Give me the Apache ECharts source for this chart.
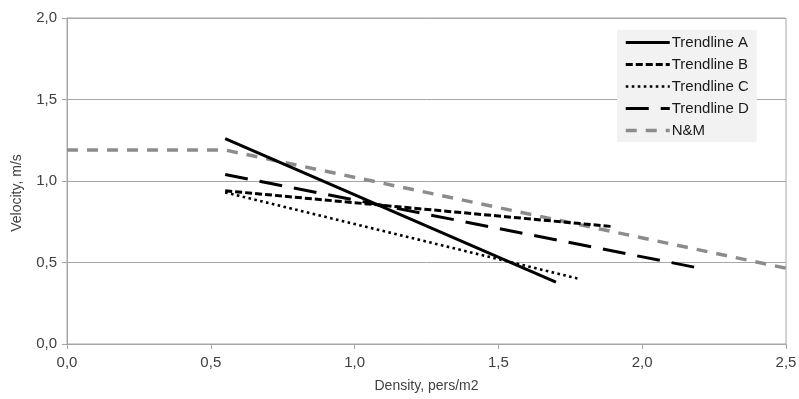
<!DOCTYPE html>
<html><head><meta charset="utf-8">
<script src="https://cdn.jsdelivr.net/npm/echarts@6/dist/echarts.min.js"></script>
<style>html,body{margin:0;padding:0;background:#fff}#c{width:799px;height:399px}</style>
</head><body><div id="c"></div>
<script>
const xTicks = ['0,0','0,5','1,0','1,5','2,0','2,5'];
const yTicks = ['0,0','0,5','1,0','1,5','2,0'];
const seriesNames = ['Trendline A','Trendline B','Trendline C','Trendline D','N&M'];
const trendA_x = [0.55, 1.70];
const trendA_y = [1.26, 0.38];
const trendB_x = [0.55, 1.90];
const trendB_y = [0.94, 0.72];
const trendC_x = [0.55, 1.78];
const trendC_y = [0.93, 0.40];
const trendD_x = [0.55, 2.20];
const trendD_y = [1.04, 0.465];
const nm_x = [0.0, 0.55, 2.50];
const nm_y = [1.19, 1.19, 0.465];

const zip = (xs, ys) => xs.map((x, i) => [x, ys[i]]);
const font = 'Liberation Sans';
const txt = '#404040';

const styles = [
  {color:'#000', width:3, type:'solid'},
  {color:'#000', width:3, type:[7,3]},
  {color:'#000', width:2.6, type:[2.6,3.4]},
  {color:'#000', width:3, type:[23,12]},
  {color:'#8c8c8c', width:3.5, type:[11,9]}
];
const datas = [zip(trendA_x,trendA_y), zip(trendB_x,trendB_y), zip(trendC_x,trendC_y), zip(trendD_x,trendD_y), zip(nm_x,nm_y)];

const chart = echarts.init(document.getElementById('c'), null, {renderer:'canvas'});
chart.setOption({
  animation:false,
  backgroundColor:'#fff',
  grid:{left:67,right:13,top:18,bottom:55,show:true,borderColor:'#a6a6a6',borderWidth:1,containLabel:false,outerBoundsMode:'none'},
  legend:{
    data: seriesNames.map((n,i)=>({name:n, itemStyle:{opacity:0}, lineStyle:{color:styles[i].color,width:styles[i].width,type:styles[i].type}})),
    orient:'vertical', left:617, top:30,
    backgroundColor:'#f2f2f2', padding:[5,8,4,7],
    itemWidth:44, itemHeight:14, itemGap:7,
    textStyle:{fontFamily:font,fontSize:15,color:'#1a1a1a',padding:[0,0,0,-3]}
  },
  xAxis:{
    type:'value', min:0, max:2.5, interval:0.5,
    name:'Density, pers/m2', nameLocation:'middle', nameGap:35,
    nameTextStyle:{fontFamily:font,fontSize:14,color:txt},
    axisLine:{show:true,lineStyle:{color:'#a6a6a6',width:1}},
    axisTick:{show:true,length:5,lineStyle:{color:'#a6a6a6'}},
    axisLabel:{fontFamily:font,fontSize:15,color:txt,margin:11,formatter:v=>xTicks[Math.round(v/0.5)]},
    splitLine:{show:false}
  },
  yAxis:{
    type:'value', min:0, max:2.0, interval:0.5,
    name:'Velocity, m/s', nameLocation:'middle', nameGap:43, nameRotate:90,
    nameTextStyle:{fontFamily:font,fontSize:14,color:txt,padding:[0,24,0,0]},
    axisLine:{show:true,lineStyle:{color:'#a6a6a6',width:1}},
    axisTick:{show:true,length:5,lineStyle:{color:'#a6a6a6'}},
    axisLabel:{fontFamily:font,fontSize:15,color:txt,margin:10,formatter:v=>yTicks[Math.round(v/0.5)]},
    splitLine:{show:true,lineStyle:{color:'#a6a6a6',width:1}}
  },
  series: seriesNames.map((n,i)=>({
    name:n, type:'line', data:datas[i], symbol:'none', z: i===4?1:2,
    lineStyle:styles[i], itemStyle:{color:styles[i].color}
  }))
});
</script></body></html>
